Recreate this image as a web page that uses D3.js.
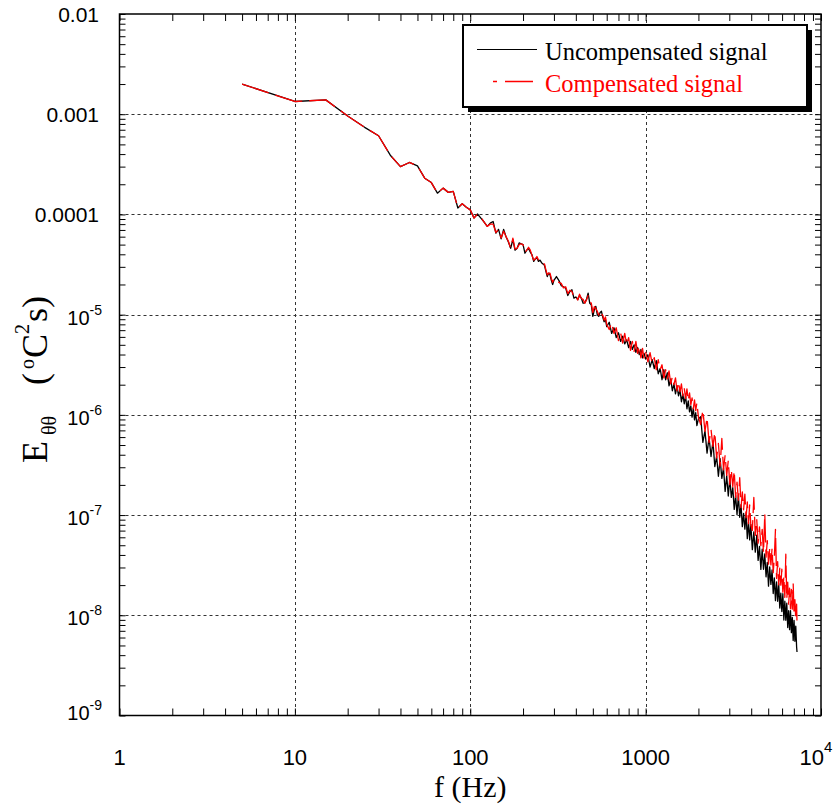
<!DOCTYPE html>
<html>
<head>
<meta charset="utf-8">
<script src="https://cdn.jsdelivr.net/npm/d3@7"></script>
<style>
  body { margin: 0; background: #ffffff; }
  svg { display: block; }
</style>
</head>
<body>
<svg id="chart" width="838" height="805"></svg>
<script>
// Temperature spectrum E_θθ(f), before and after compensation.
const freqHz = [
  5, 10, 15, 20, 25, 30, 35, 40, 45, 50, 55, 60, 65, 70, 75, 80, 85, 90, 95, 100,
  105, 110, 115, 120, 125, 130, 135, 140, 145, 150, 155, 160, 165, 170, 175, 180, 185, 190, 195, 200,
  205, 210, 215, 220, 225, 230, 235, 240, 245, 250, 255, 260, 265, 270, 275, 280, 285, 290, 295, 300,
  310, 320, 330, 340, 350, 360, 370, 380, 390, 400, 410, 420, 430, 440, 450,
  460, 470, 480, 490, 500, 510, 520, 530, 540, 550, 560, 570, 580, 590, 600,
  620, 640, 660, 680, 700, 720, 740, 760, 780, 800, 820, 840, 860, 880, 900, 920, 940, 960, 980, 1000,
  1030, 1060, 1090, 1120, 1150, 1180, 1210, 1240, 1270, 1300, 1330, 1360, 1390, 1420, 1450, 1480,
  1510, 1540, 1570, 1600, 1630, 1660, 1690, 1720, 1750, 1780, 1810, 1840, 1870, 1900, 1930, 1960, 2000,
  2060, 2120, 2180, 2240, 2300, 2360, 2420, 2480, 2540, 2600, 2660, 2720, 2780, 2840, 2900, 2960,
  3020, 3080, 3140, 3200, 3260, 3320, 3380, 3440, 3500, 3560, 3620, 3680, 3740, 3800, 3860, 3920, 3980,
  4060, 4140, 4220, 4300, 4380, 4460, 4540, 4620, 4700, 4780, 4860, 4940, 5020, 5100, 5180, 5260,
  5340, 5420, 5500, 5580, 5660, 5740, 5820, 5900, 5980, 6060, 6140, 6220, 6300, 6380, 6460, 6540,
  6620, 6700, 6780, 6860, 6940, 7020, 7100, 7180, 7260, 7300
];

const uncompensated = [
  2.0e-3, 1.34e-3, 1.39e-3, 9.6e-4, 7.4e-4, 6.1e-4, 3.9e-4, 3.0e-4, 3.3e-4, 3.05e-4,
  2.3e-4, 2.08e-4, 1.63e-4, 1.83e-4, 1.66e-4, 1.7e-4, 1.16e-4, 1.28e-4, 1.18e-4, 1.11e-4,
  9.2e-5, 1.01e-4, 9.2e-5, 8.4e-5, 7.6e-5, 8.2e-5, 8.5e-5, 6.5e-5, 7.1e-5, 5.7e-5,
  7.1e-5, 6.0e-5, 5.3e-5, 4.6e-5, 5.6e-5, 4.4e-5, 4.6e-5, 5.2e-5, 5.1e-5, 5.0e-5,
  4.1e-5, 4.4e-5, 4.6e-5, 4.2e-5, 3.95e-5, 3.4e-5, 3.6e-5, 3.7e-5, 3.4e-5, 3.5e-5,
  3.3e-5, 3.2e-5, 3.1e-5, 2.7e-5, 2.4e-5, 2.6e-5, 2.5e-5, 2.2e-5, 2.0e-5, 2.2e-5,
  2.4e-5, 2.2e-5, 1.95e-5, 1.9e-5, 1.84e-5, 1.55e-5, 1.7e-5, 1.77e-5, 1.46e-5, 1.5e-5,
  1.41e-5, 1.55e-5, 1.46e-5, 1.3e-5, 1.31e-5, 1.42e-5, 1.64e-5, 1.3e-5, 1.25e-5, 9.6e-6,
  1.12e-5, 1.21e-5, 1.0e-5, 9.6e-6, 1.05e-5, 1.08e-5, 9.4e-6, 8.5e-6, 9.0e-6, 7.6e-6,
  8.4e-6, 6.5e-6, 7.4e-6, 5.9e-6, 6.6e-6, 5.4e-6, 6.1e-6, 5.1e-6, 5.6e-6, 4.7e-6,
  5.4e-6, 4.5e-6, 5.0e-6, 4.2e-6, 4.7e-6, 4.0e-6, 4.5e-6, 3.7e-6, 4.1e-6, 3.6e-6,
  3.98e-6, 3.0e-6, 3.55e-6, 2.9e-6, 3.47e-6, 2.57e-6, 2.9e-6, 2.24e-6, 2.82e-6, 2.24e-6,
  2.63e-6, 1.95e-6, 2.29e-6, 1.74e-6, 2.04e-6, 1.62e-6, 1.95e-6, 1.55e-6, 1.78e-6, 1.35e-6,
  1.62e-6, 1.29e-6, 1.55e-6, 1.15e-6, 1.38e-6, 1.07e-6, 1.23e-6, 9.5e-7, 1.17e-6, 8.9e-7,
  1.05e-6, 7.8e-7, 9.1e-7,
  9.6e-7, 5.32e-7, 6.93e-7, 4.15e-7, 5.96e-7, 3.84e-7, 5.42e-7, 3.05e-7, 3.85e-7, 2.44e-7,
  3.65e-7, 2.32e-7, 2.96e-7, 1.72e-7, 2.47e-7, 1.55e-7, 2.33e-7, 1.5e-7, 1.88e-7, 1.14e-7,
  1.57e-7, 1.01e-7, 1.57e-7, 9.5e-8, 1.26e-7, 7.66e-8, 1.04e-7, 7.23e-8, 1.03e-7, 5.82e-8,
  8.49e-8, 5.66e-8, 8.09e-8,
  4.52e-8, 6.79e-8, 4.27e-8, 6.3e-8, 3.53e-8, 4.88e-8, 2.87e-8, 4.56e-8, 2.88e-8, 4.09e-8,
  2.42e-8, 3.37e-8, 1.95e-8, 3.04e-8, 2.03e-8, 2.83e-8, 1.65e-8, 2.36e-8, 1.4e-8, 2.15e-8,
  1.38e-8, 2.07e-8, 1.18e-8, 1.66e-8, 1.09e-8, 1.64e-8, 8.97e-9, 1.38e-8, 8.91e-9, 1.32e-8,
  7.55e-9, 1.11e-8, 7.19e-9, 1.11e-8, 6.71e-9, 9.5e-9, 5.6e-9, 8.9e-9, 5.5e-9, 7.8e-9,
  4.82e-9, 4.3e-9
];

const compensated = [
  2.0e-3, 1.34e-3, 1.39e-3, 9.6e-4, 7.4e-4, 6.1e-4, 3.9e-4, 3.0e-4, 3.3e-4, 3.05e-4,
  2.3e-4, 2.08e-4, 1.63e-4, 1.83e-4, 1.66e-4, 1.7e-4, 1.16e-4, 1.28e-4, 1.18e-4, 1.11e-4,
  9.2e-5, 1.01e-4, 9.4e-5, 8.4e-5, 7.6e-5, 8.0e-5, 8.0e-5, 6.6e-5, 7.1e-5, 5.8e-5,
  6.8e-5, 6.0e-5, 5.4e-5, 4.6e-5, 5.8e-5, 4.5e-5, 4.6e-5, 5.0e-5, 5.1e-5, 5.0e-5,
  4.2e-5, 4.4e-5, 4.7e-5, 4.4e-5, 3.9e-5, 3.5e-5, 3.6e-5, 3.8e-5, 3.5e-5, 3.5e-5,
  3.4e-5, 3.2e-5, 3.2e-5, 2.8e-5, 2.5e-5, 2.6e-5, 2.6e-5, 2.3e-5, 2.1e-5, 2.25e-5,
  2.3e-5, 2.1e-5, 2.05e-5, 1.85e-5, 1.9e-5, 1.62e-5, 1.75e-5, 1.7e-5, 1.5e-5, 1.55e-5,
  1.4e-5, 1.6e-5, 1.45e-5, 1.42e-5, 1.3e-5, 1.4e-5, 1.55e-5, 1.35e-5, 1.3e-5, 1.05e-5,
  1.2e-5, 1.15e-5, 1.08e-5, 9.9e-6, 1.1e-5, 1.02e-5, 9.8e-6, 8.8e-6, 9.5e-6, 8.0e-6,
  7.1e-6, 8.3e-6, 6.5e-6, 7.4e-6, 5.5e-6, 6.6e-6, 5.2e-6, 6.5e-6, 5.0e-6, 5.9e-6,
  4.4e-6, 5.4e-6, 4.3e-6, 5.4e-6, 4.1e-6, 4.9e-6, 3.7e-6, 4.6e-6, 3.6e-6, 4.2e-6,
  3.39e-6, 4.17e-6, 3.24e-6, 3.72e-6, 2.82e-6, 3.55e-6, 2.82e-6, 3.16e-6, 2.34e-6, 2.82e-6,
  2.29e-6, 2.75e-6, 2.04e-6, 2.4e-6, 2.0e-6, 2.34e-6, 1.74e-6, 2.14e-6, 1.7e-6, 2.04e-6,
  1.55e-6, 1.86e-6, 1.45e-6, 1.82e-6, 1.38e-6, 1.66e-6, 1.26e-6, 1.48e-6, 1.15e-6, 1.41e-6,
  1.1e-6, 1.32e-6, 9.5e-7,
  8.0e-7, 1.12e-6, 6.85e-7, 9.42e-7, 5.3e-7, 7.14e-7, 4.84e-7, 6.71e-7, 3.72e-7, 5.18e-7,
  3.08e-7, 5.82e-7, 2.82e-7, 3.96e-7, 2.49e-7, 3.5e-7, 2.01e-7, 2.84e-7, 1.92e-7, 2.78e-7,
  1.5e-7, 2.13e-7, 1.41e-7, 2.36e-7, 1.19e-7, 1.7e-7, 1.13e-7, 1.62e-7, 9.42e-8, 1.35e-7,
  8.22e-8, 1.26e-7, 7.91e-8,
  7.03e-8, 1.5e-7, 6.28e-8, 9.1e-8, 5.25e-8, 7.64e-8, 4.95e-8, 7.21e-8, 4.19e-8, 1.04e-7,
  3.8e-8, 5.56e-8, 3.24e-8, 4.74e-8, 3.18e-8, 4.66e-8, 2.66e-8, 3.82e-8, 7.2e-8, 2.33e-8,
  3.43e-8, 2.01e-8, 2.96e-8, 2.0e-8, 2.88e-8, 1.7e-8, 2.45e-8, 1.51e-8, 4.07e-8, 1.45e-8,
  2.14e-8, 1.29e-8, 1.87e-8, 1.16e-8, 1.81e-8, 1.15e-8, 2.09e-8, 1.01e-8, 1.43e-8, 9.08e-9,
  1.29e-8, 8.1e-9
];

const xTickValues = [1, 10, 100, 1000, 10000];
const xTickLabels = [["1"], ["10"], ["100"], ["1000"], ["10", "4"]];
const yTickValues = [1e-2, 1e-3, 1e-4, 1e-5, 1e-6, 1e-7, 1e-8, 1e-9];
const yTickLabels = [["0.01"], ["0.001"], ["0.0001"], ["10", "-5"], ["10", "-6"], ["10", "-7"], ["10", "-8"], ["10", "-9"]];
const seriesNames = ["Uncompensated signal", "Compensated signal"];
const seriesColors = ["#000000", "#ff0000"];

const svg = d3.select("#chart");
const plotL = 119.5, plotR = 821, plotT = 14, plotB = 715.5;

const x = d3.scaleLog().domain([1, 1e4]).range([plotL, plotR]);
const y = d3.scaleLog().domain([1e-9, 1e-2]).range([plotB, plotT]);

// every decade subdivision 1..9 for the minor ticks
const xAllTicks = [];
for (let k = 0; k < 4; k++) for (let m = 1; m < 10; m++) xAllTicks.push(m * Math.pow(10, k));
xAllTicks.push(1e4);
const yAllTicks = [];
for (let k = -9; k < -2; k++) for (let m = 1; m < 10; m++) yAllTicks.push(m * Math.pow(10, k));
yAllTicks.push(1e-2);

// dashed grid on the inner decades
const grid = svg.append("g").attr("stroke", "#333").attr("stroke-width", 1)
  .attr("stroke-dasharray", "3,3").attr("fill", "none");
grid.selectAll("line.gx").data(xTickValues.slice(1, -1)).join("line")
  .attr("x1", d => Math.round(x(d)) + 0.5).attr("x2", d => Math.round(x(d)) + 0.5)
  .attr("y1", plotT).attr("y2", plotB);
grid.selectAll("line.gy").data(yTickValues.slice(1, -1)).join("line")
  .attr("y1", d => Math.round(y(d)) + 0.5).attr("y2", d => Math.round(y(d)) + 0.5)
  .attr("x1", plotL).attr("x2", plotR);

// inward ticks on all four sides
function tickAxis(axis, tx, ty) {
  const g = svg.append("g").attr("transform", `translate(${tx},${ty})`).call(axis);
  g.select(".domain").remove();
  g.selectAll("text").remove();
  g.selectAll("line").attr("stroke", "#000").attr("stroke-width", 1);
}
tickAxis(d3.axisBottom(x).tickValues(xAllTicks).tickSize(-7), 0, plotB);
tickAxis(d3.axisTop(x).tickValues(xAllTicks).tickSize(-7), 0, plotT);
tickAxis(d3.axisLeft(y).tickValues(yAllTicks).tickSize(-6), plotL, 0);
tickAxis(d3.axisRight(y).tickValues(yAllTicks).tickSize(-6), plotR, 0);

// spectra
const clip = svg.append("clipPath").attr("id", "plotClip");
clip.append("rect").attr("x", plotL).attr("y", plotT).attr("width", plotR - plotL).attr("height", plotB - plotT);

const line = d3.line().x(d => x(d[0])).y(d => y(d[1]));
const rows = [uncompensated, compensated].map(vals => freqHz.map((f, i) => [f, vals[i]]));

const plot = svg.append("g").attr("clip-path", "url(#plotClip)");
plot.append("path").datum(rows[0]).attr("d", line)
  .attr("fill", "none").attr("stroke", seriesColors[0]).attr("stroke-width", 1.3)
  .attr("stroke-linejoin", "round");
plot.append("path").datum(rows[1]).attr("d", line)
  .attr("fill", "none").attr("stroke", seriesColors[1]).attr("stroke-width", 1.3)
  .attr("stroke-dasharray", "28,7").attr("stroke-linejoin", "round");

// frame
svg.append("rect").attr("x", plotL).attr("y", plotT).attr("width", plotR - plotL).attr("height", plotB - plotT)
  .attr("fill", "none").attr("stroke", "#000").attr("stroke-width", 1.5);

// tick labels
const sans = "'Liberation Sans', Arial, sans-serif";
const serif = "'Liberation Serif', 'Times New Roman', serif";

const xl = svg.append("g").attr("font-family", sans).attr("fill", "#000");
xTickValues.forEach((v, i) => {
  const lab = xTickLabels[i];
  const t = xl.append("text").attr("x", x(v) - (lab.length > 1 ? 5 : 0)).attr("y", 765)
    .attr("text-anchor", "middle").attr("font-size", 22);
  t.append("tspan").text(lab[0]);
  if (lab.length > 1) t.append("tspan").attr("font-size", 15).attr("dy", -13).text(lab[1]);
});

const yl = svg.append("g").attr("font-family", sans).attr("fill", "#000");
yTickValues.forEach((v, i) => {
  const lab = yTickLabels[i];
  const yy = y(v);
  if (lab.length === 1) {
    yl.append("text").attr("x", 99).attr("y", yy + 8).attr("text-anchor", "end")
      .attr("font-size", 21).text(lab[0]);
  } else {
    const base = v === 1e-9 ? yy + 4 : yy + 10;
    const t = yl.append("text").attr("x", 102).attr("y", base).attr("text-anchor", "end")
      .attr("font-size", 20);
    t.append("tspan").text(lab[0]);
    t.append("tspan").attr("font-size", 14).attr("dy", -10).text(lab[1]);
  }
});

// axis titles
svg.append("text").attr("x", (plotL + plotR) / 2).attr("y", 797).attr("text-anchor", "middle")
  .attr("font-family", serif).attr("font-size", 30).attr("fill", "#000").text("f (Hz)");

const yt = svg.append("text").attr("transform", "translate(47,463) rotate(-90)")
  .attr("font-family", serif).attr("font-size", 36).attr("fill", "#000");
yt.append("tspan").attr("x", 0).attr("y", 0).text("E");
yt.append("tspan").attr("x", 28).attr("y", 9).attr("font-size", 20).text("θθ");
yt.append("tspan").attr("x", 78).attr("y", 0).text("(");
yt.append("tspan").attr("x", 94).attr("y", -13).attr("font-size", 20).text("o");
yt.append("tspan").attr("x", 105).attr("y", 0).text("C");
yt.append("tspan").attr("x", 129).attr("y", -18).attr("font-size", 20).text("2");
yt.append("tspan").attr("x", 141).attr("y", 0).text("s)");

// legend
const lg = svg.append("g");
lg.append("rect").attr("x", 468).attr("y", 30).attr("width", 344).attr("height", 82).attr("fill", "#000");
lg.append("rect").attr("x", 463).attr("y", 25).attr("width", 344).attr("height", 82)
  .attr("fill", "#fff").attr("stroke", "#000").attr("stroke-width", 2);
lg.append("line").attr("x1", 477).attr("x2", 537).attr("y1", 49.5).attr("y2", 49.5)
  .attr("stroke", seriesColors[0]).attr("stroke-width", 1.2);
lg.append("line").attr("x1", 493).attr("x2", 533).attr("y1", 81.5).attr("y2", 81.5)
  .attr("stroke", seriesColors[1]).attr("stroke-width", 1.5)
  .attr("stroke-dasharray", "28,8").attr("stroke-dashoffset", 24);
lg.append("text").attr("x", 545).attr("y", 60).attr("font-family", serif).attr("font-size", 24.5)
  .attr("fill", seriesColors[0]).text(seriesNames[0]);
lg.append("text").attr("x", 545).attr("y", 92).attr("font-family", serif).attr("font-size", 24.5)
  .attr("fill", seriesColors[1]).text(seriesNames[1]);
</script>
</body>
</html>
